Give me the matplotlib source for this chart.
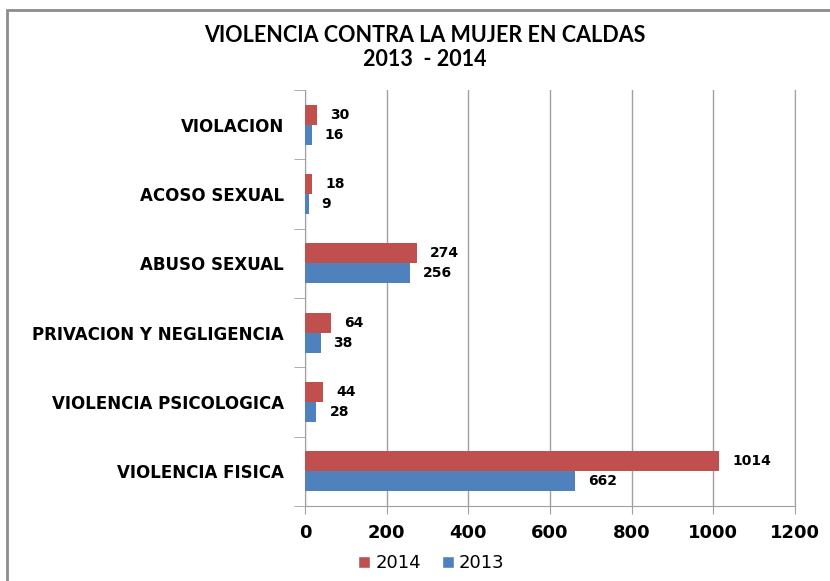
import numpy as np
import matplotlib.pyplot as plt
from matplotlib.patches import Rectangle
from matplotlib.lines import Line2D

categories = ['VIOLACION', 'ACOSO SEXUAL', 'ABUSO SEXUAL', 'PRIVACION Y NEGLIGENCIA',
              'VIOLENCIA PSICOLOGICA', 'VIOLENCIA FISICA']
vals_2014 = [30, 18, 274, 64, 44, 1014]
vals_2013 = [16, 9, 256, 38, 28, 662]
xticks = [0, 200, 400, 600, 800, 1000, 1200]

red = '#C0504D'
blue = '#4F81BD'
grey = '#A0A0A0'

fig = plt.figure(figsize=(8.3, 5.81), dpi=100)
ax = fig.add_axes([305 / 830, 1 - 506 / 581, 490 / 830, 416 / 581])

# first category at the top
y = np.arange(len(categories))[::-1].astype(float)
h = 0.29
ax.barh(y + h / 2, vals_2014, height=h, color=red, zorder=3, label='2014')
ax.barh(y - h / 2, vals_2013, height=h, color=blue, zorder=3, label='2013')

for yi, v in zip(y, vals_2014):
    ax.text(v + 32, yi + h / 2, str(v), va='center', ha='left', fontsize=10,
            fontweight='bold', family='DejaVu Sans')
for yi, v in zip(y, vals_2013):
    ax.text(v + 32, yi - h / 2, str(v), va='center', ha='left', fontsize=10,
            fontweight='bold', family='DejaVu Sans')

ax.set_xlim(0, 1200)
ax.set_ylim(-0.5, len(categories) - 0.5)
ax.set_xticks(xticks)
ax.set_xticklabels([str(t) for t in xticks], fontsize=13, fontweight='bold')
ax.set_yticks(y)
ax.set_yticklabels(categories, fontsize=12, fontweight='bold')
ax.set_yticks(np.arange(-0.5, len(categories), 1.0), minor=True)
ax.tick_params(axis='y', which='major', length=0, pad=15)
ax.tick_params(axis='y', which='minor', length=8, color=grey, direction='out')
ax.tick_params(axis='x', length=6, color=grey, direction='out', pad=7)
ax.grid(axis='x', color=grey, linewidth=1, zorder=0)
ax.spines['top'].set_visible(False)
for s in ['left', 'bottom', 'right']:
    ax.spines[s].set_color(grey)

fig.text(0.512, 1 - 36 / 581, 'VIOLENCIA CONTRA LA MUJER EN CALDAS', ha='center', va='center',
         fontsize=15.5, fontweight='bold', family='Lato')
fig.text(0.512, 1 - 59 / 581, '2013  - 2014', ha='center', va='center',
         fontsize=15.5, fontweight='bold', family='Lato')

handles = [Line2D([0], [0], marker='s', color='w', markerfacecolor=red, markersize=9, label='2014'),
           Line2D([0], [0], marker='s', color='w', markerfacecolor=blue, markersize=9, label='2013')]
fig.legend(handles=handles, loc='center', bbox_to_anchor=(0.518, 1 - 563 / 581), ncol=2,
           frameon=False, fontsize=13, handletextpad=0.1, columnspacing=1.0, handlelength=1.0)

fig.patches.append(Rectangle((7 / 830, -0.1), 1.2, 1 - 10 / 581 + 0.1, transform=fig.transFigure,
                             fill=False, edgecolor='#8C8C8C', linewidth=2))

fig.savefig('out.png', dpi=100)
